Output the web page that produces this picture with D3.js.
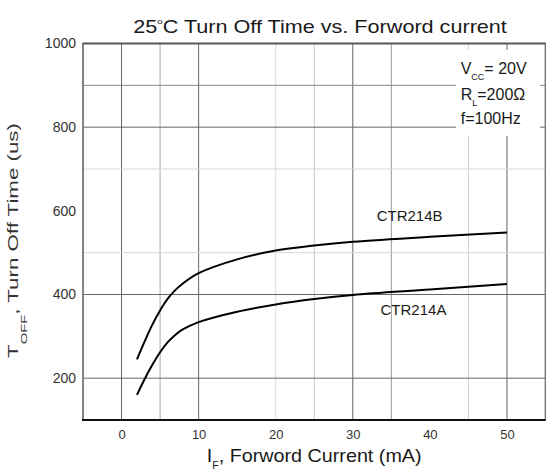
<!DOCTYPE html>
<html>
<head>
<meta charset="utf-8">
<script src="https://cdn.jsdelivr.net/npm/d3@7"></script>
<style>
  html, body { margin: 0; padding: 0; background: #fff; }
  svg { display: block; font-family: "Liberation Sans", Arial, sans-serif; }
</style>
</head>
<body>
<svg id="chart" width="546" height="470"></svg>
<script>
// ---- data ----
const forwardCurrent = [2, 3, 4, 5, 6, 7, 8, 10, 15, 20, 25, 30, 40, 50];
const ctr214B = [245, 288, 328, 362, 390, 411, 427, 451, 484, 505, 517, 526, 538, 548];
const ctr214A = [160, 198, 232, 262, 286, 304, 317, 334, 359, 376, 389, 399, 412, 425];
const seriesNames = ["CTR214B", "CTR214A"];
const xTickValues = [0, 10, 20, 30, 40, 50];
const yTickValues = [200, 400, 600, 800, 1000];
const xGridValues = [0, 5, 10, 20, 25, 30, 35, 45, 50];
const yGridValues = [200, 400, 500, 700, 800, 900];
const conditionLines = [["V", "CC", "= 20V"], ["R", "L", "=200\u03A9"], ["f=100Hz", "", ""]];

// ---- layout ----
const svg = d3.select("#chart");
const x = d3.scaleLinear().domain([-5, 55]).range([83, 545.5]);
const y = d3.scaleLinear().domain([100, 1000]).range([420, 43.5]);

const xShade = {0: "#666", 5: "#aaa", 10: "#666", 20: "#d8d8d8", 25: "#c8c8c8", 30: "#666", 35: "#999", 45: "#d0d0d0", 50: "#666"};
const yShade = {200: "#666", 400: "#666", 500: "#d8d8d8", 700: "#d8d8d8", 800: "#666", 900: "#888"};

// grid
svg.append("g").selectAll("line").data(xGridValues).join("line")
  .attr("x1", d => x(d)).attr("x2", d => x(d))
  .attr("y1", y(1000)).attr("y2", y(100))
  .attr("stroke", d => xShade[d]).attr("stroke-width", 1);
svg.append("g").selectAll("line").data(yGridValues).join("line")
  .attr("x1", x(-5)).attr("x2", x(55))
  .attr("y1", d => y(d)).attr("y2", d => y(d))
  .attr("stroke", d => yShade[d]).attr("stroke-width", 1);

// annotation box (covers grid)
svg.append("rect").attr("x", 456).attr("y", 50).attr("width", 84).attr("height", 86).attr("fill", "#fff");

// frame
svg.append("rect")
  .attr("x", x(-5)).attr("y", y(1000))
  .attr("width", x(55) - x(-5)).attr("height", y(100) - y(1000))
  .attr("fill", "none").attr("stroke", "#777").attr("stroke-width", 1.8);
svg.append("line").attr("x1", x(-5) - 1).attr("x2", x(55)).attr("y1", y(100)).attr("y2", y(100))
  .attr("stroke", "#111").attr("stroke-width", 2.2);
svg.append("line").attr("x1", x(-5)).attr("x2", x(55)).attr("y1", y(1000)).attr("y2", y(1000))
  .attr("stroke", "#555").attr("stroke-width", 1.5);

// axes
const yAxis = svg.append("g").attr("transform", `translate(${x(-5)},0)`)
  .call(d3.axisLeft(y).tickValues(yTickValues).tickFormat(d3.format("d")).tickSize(0).tickPadding(7));
yAxis.select(".domain").remove();
yAxis.selectAll("text").attr("font-size", 14).attr("fill", "#333")
  .attr("font-family", "Liberation Sans, Arial, sans-serif");

const xAxis = svg.append("g").attr("transform", `translate(0,${y(100)})`)
  .call(d3.axisBottom(x).tickValues(xTickValues).tickFormat(d3.format("d")).tickSize(0).tickPadding(10));
xAxis.select(".domain").remove();
xAxis.selectAll("text").attr("font-size", 13).attr("fill", "#333")
  .attr("font-family", "Liberation Sans, Arial, sans-serif");

// curves
const line = d3.line().x(d => x(d[0])).y(d => y(d[1])).curve(d3.curveCatmullRom.alpha(0.5));
[ctr214B, ctr214A].forEach(vals => {
  svg.append("path")
    .datum(forwardCurrent.map((c, i) => [c, vals[i]]))
    .attr("d", line).attr("fill", "none")
    .attr("stroke", "#000").attr("stroke-width", 2);
});

// helper: text stretched to a measured width
function fitted(tx, ty, fontSize, targetW, build, rotate, fill) {
  const g = svg.append("g").attr("transform", `translate(${tx},${ty})` + (rotate ? " rotate(-90)" : ""));
  const t = g.append("text").attr("font-size", fontSize).attr("fill", fill || "#1a1a1a")
    .attr("text-anchor", rotate ? "middle" : "start");
  build(t);
  const w = t.node().getBBox().width;
  t.attr("transform", `scale(${targetW / w},1)`);
  return t;
}

// title
fitted(133.3, 32.7, 18, 374, t => {
  t.append("tspan").text("25");
  t.append("tspan").attr("font-size", 8).attr("dy", -8.5).text("o");
  t.append("tspan").attr("dy", 8.5).text("C Turn Off Time vs. Forword current");
});

// x axis title
fitted(206.7, 461.7, 18.6, 215, t => {
  t.append("tspan").text("I");
  t.append("tspan").attr("font-size", 10).attr("dy", 7.5).text("F");
  t.append("tspan").attr("dy", -7.5).text(", Forword Current (mA)");
});

// y axis title
fitted(18.3, 240.5, 14, 235, t => {
  t.append("tspan").text("T");
  t.append("tspan").attr("font-size", 9.3).attr("dy", 8.4).text("OFF");
  t.append("tspan").attr("dy", -8.4).text(", Turn Off Time (us)");
}, true, "#333");

// conditions
const condBase = [73.5, 99.5, 124];
conditionLines.forEach((parts, i) => {
  const t = svg.append("text").attr("x", 460.7).attr("y", condBase[i])
    .attr("font-size", 16).attr("fill", "#1a1a1a");
  t.append("tspan").text(parts[0]);
  if (parts[1]) {
    t.append("tspan").attr("font-size", 9).attr("dy", 6.5).text(parts[1]);
    t.append("tspan").attr("dy", -6.5).text(parts[2]);
  }
});

// series labels
svg.append("text").attr("x", x(33.1)).attr("y", y(576)).attr("font-size", 15).attr("fill", "#1a1a1a").text(seriesNames[0]);
svg.append("text").attr("x", x(33.6)).attr("y", y(352)).attr("font-size", 15).attr("fill", "#1a1a1a").text(seriesNames[1]);
</script>
</body>
</html>
